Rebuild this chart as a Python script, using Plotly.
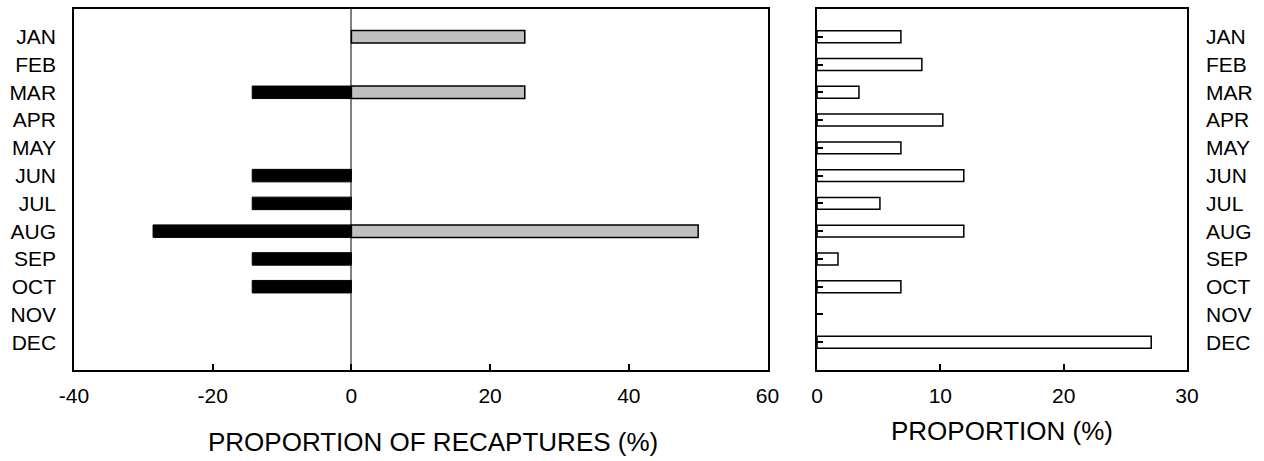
import plotly.graph_objects as go

# Month categories shared by both panels
months = ["JAN", "FEB", "MAR", "APR", "MAY", "JUN",
          "JUL", "AUG", "SEP", "OCT", "NOV", "DEC"]

# Left panel: recapture proportions (%), two groups drawn on either side of zero
recap_neg = [None, None, -14.3, None, None, -14.3, -14.3, -28.6, -14.3, -14.3, None, None]
recap_pos = [25, None, 25, None, None, None, None, 50, None, None, None, None]

# Right panel: monthly proportion (%)
proportion = [6.8, 8.5, 3.4, 10.2, 6.8, 11.9, 5.1, 11.9, 1.7, 6.8, 0, 27.1]

left_ticks = [-40, -20, 0, 20, 40, 60]
left_tick_text = ["-40", "-20", "0", "20", "40", "60"]
right_ticks = [0, 10, 20, 30]

FONT = "Liberation Sans, Arial, sans-serif"
AX = "#000000"

fig = go.Figure()

fig.add_trace(go.Bar(
    y=months, x=recap_neg, orientation="h", width=0.45,
    marker=dict(color="#000000", line=dict(color="#000000", width=1)),
    xaxis="x", yaxis="y", showlegend=False,
))
fig.add_trace(go.Bar(
    y=months, x=recap_pos, orientation="h", width=0.45,
    marker=dict(color="#c0c0c0", line=dict(color="#000000", width=1.5)),
    xaxis="x", yaxis="y", showlegend=False,
))
# zero-length bars get no outline so nothing is drawn for them
outline = [1.5 if v else 0 for v in proportion]
fig.add_trace(go.Bar(
    y=months, x=proportion, orientation="h", width=0.43,
    marker=dict(color="#ffffff", line=dict(color="#000000", width=outline)),
    xaxis="x2", yaxis="y2", showlegend=False,
))
# invisible trace to anchor the right-hand label axis
fig.add_trace(go.Scatter(
    y=months, x=[None] * len(months), mode="markers",
    xaxis="x2", yaxis="y3", showlegend=False, hoverinfo="skip",
))

cat_range = [len(months), -1]

fig.update_layout(
    width=1264, height=461,
    margin=dict(l=74, r=77, t=7, b=91),
    paper_bgcolor="white", plot_bgcolor="white",
    barmode="overlay",
    font=dict(family=FONT, size=21, color="#000000"),
    xaxis=dict(
        domain=[0, 0.6231], range=[-40, 60],
        tickvals=left_ticks, ticktext=left_tick_text,
        ticks="inside", ticklen=6, tickwidth=1.5, tickcolor=AX,
        showline=True, linecolor=AX, linewidth=1.5, mirror=True,
        showgrid=False, zeroline=True, zerolinecolor="#808080", zerolinewidth=2,
        ticklabelstandoff=6, anchor="y",
    ),
    yaxis=dict(
        domain=[0, 1], type="category", categoryorder="array", categoryarray=months,
        range=cat_range, autorange=False, ticks="", showgrid=False,
        showline=True, linecolor=AX, linewidth=1.5, mirror=True,
        ticklabelstandoff=12, anchor="x",
    ),
    xaxis2=dict(
        domain=[0.6676, 1], range=[0, 30], tickvals=right_ticks,
        ticks="inside", ticklen=6, tickwidth=1.5, tickcolor=AX,
        showline=True, linecolor=AX, linewidth=1.5, mirror=True,
        showgrid=False, zeroline=False, ticklabelstandoff=6, anchor="y2",
    ),
    yaxis2=dict(
        domain=[0, 1], type="category", categoryorder="array", categoryarray=months,
        range=cat_range, autorange=False, side="left",
        ticks="inside", ticklen=6, tickwidth=1.5, tickcolor=AX,
        showticklabels=False, showgrid=False,
        showline=True, linecolor=AX, linewidth=1.5, mirror=True,
        anchor="x2",
    ),
    yaxis3=dict(
        type="category", categoryorder="array", categoryarray=months,
        range=cat_range, autorange=False, overlaying="y2", side="right",
        ticks="", showgrid=False, showline=False, anchor="x2",
        ticklabelstandoff=18,
    ),
    annotations=[
        dict(text="PROPORTION OF RECAPTURES (%)", xref="paper", yref="paper",
             x=(433 - 74) / 1113, y=-(442 - 370) / 363, xanchor="center", yanchor="middle",
             showarrow=False, font=dict(size=26)),
        dict(text="PROPORTION (%)", xref="paper", yref="paper",
             x=(1002 - 74) / 1113, y=-(431 - 370) / 363, xanchor="center", yanchor="middle",
             showarrow=False, font=dict(size=26)),
    ],
)

fig.write_html("out.html")
